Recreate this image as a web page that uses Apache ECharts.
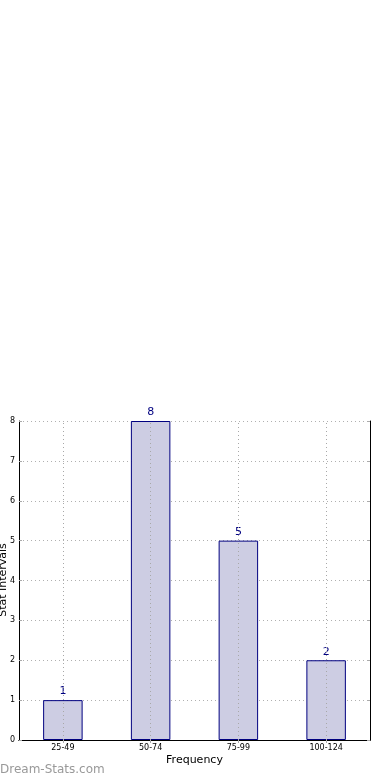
<!DOCTYPE html>
<html><head><meta charset="utf-8">
<script src="https://cdn.jsdelivr.net/npm/echarts@6/dist/echarts.min.js"></script>
<style>html,body{margin:0;padding:0;background:#fff}#c{width:390px;height:780px}</style>
</head><body><div id="c"></div>
<script>
const categories = ['25-49', '50-74', '75-99', '100-124'];
const counts = [1, 8, 5, 2];
const yTicks = [0, 1, 2, 3, 4, 5, 6, 7, 8];

const chart = echarts.init(document.getElementById('c'), null, {renderer: 'canvas'});
const gridLine = {show: true, lineStyle: {color: '#b0b0b0', type: [1, 3], width: 1}};
chart.setOption({
  animation: false,
  backgroundColor: '#ffffff',
  textStyle: {fontFamily: 'DejaVu Sans'},
  grid: {left: 19, right: 20, top: 421, bottom: 40, containLabel: false, outerBoundsMode: 'none'},
  xAxis: [{
    type: 'category', data: categories, boundaryGap: true,
    name: 'Frequency', nameLocation: 'middle', nameGap: 15,
    nameTextStyle: {fontSize: 11, color: '#000'},
    axisLine: {lineStyle: {color: '#000', width: 1}},
    axisTick: {show: true, alignWithLabel: true, inside: true, length: 3, lineStyle: {color: '#aaa'}},
    axisLabel: {fontSize: 8, color: '#000', margin: 4},
    splitLine: {show: false}
  }, {
    type: 'category', data: categories, boundaryGap: true, position: 'top',
    axisLine: {show: true, lineStyle: {color: '#000', width: 1}},
    axisTick: {show: true, alignWithLabel: true, inside: true, length: 3, lineStyle: {color: '#aaa'}},
    axisLabel: {show: false},
    splitLine: {show: false}
  }],
  yAxis: [{
    type: 'value', min: yTicks[0], max: yTicks[yTicks.length - 1], interval: 1,
    axisLine: {show: true, lineStyle: {color: '#000', width: 1}},
    axisTick: {show: true, inside: true, length: 3, lineStyle: {color: '#aaa'}},
    axisLabel: {fontSize: 8, color: '#000', margin: 4},
    splitLine: gridLine
  }, {
    type: 'value', min: yTicks[0], max: yTicks[yTicks.length - 1], interval: 1, position: 'right',
    axisLine: {show: true, lineStyle: {color: '#000', width: 1}},
    axisTick: {show: true, inside: true, length: 3, lineStyle: {color: '#aaa'}},
    axisLabel: {show: false}, splitLine: {show: false}
  }],
  series: [{
    type: 'bar', data: counts, barWidth: '45%', xAxisIndex: 0, yAxisIndex: 0,
    itemStyle: {color: '#cdcde3', borderColor: '#000080', borderWidth: 1},
    label: {show: true, position: 'top', color: '#000080', fontSize: 11, distance: 3},
    z: 3,
    markLine: {
      silent: true, symbol: 'none', label: {show: false}, z: 4,
      lineStyle: {color: '#a8a8a8', type: [1, 3], width: 1},
      data: categories.map(c => ({xAxis: c}))
    }
  }, {
    type: 'bar', data: categories.map(() => 0), xAxisIndex: 1, yAxisIndex: 1, silent: true
  }],
  graphic: [{
    type: 'text', x: 3, y: 580, rotation: Math.PI / 2,
    style: {text: 'Stat Intervals', fill: '#000', font: '11px "DejaVu Sans"', align: 'center', verticalAlign: 'middle'}
  }, {
    type: 'text', left: 0, top: 764,
    style: {text: 'Dream-Stats.com', fill: '#999999', font: '12px "DejaVu Sans"'}
  }]
});
</script></body></html>
